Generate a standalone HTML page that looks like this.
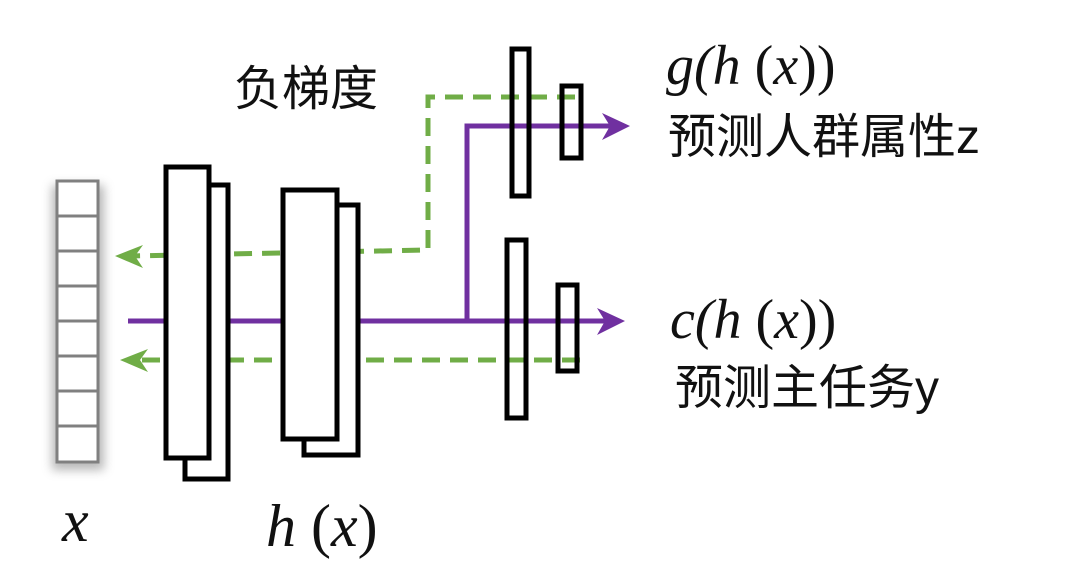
<!DOCTYPE html>
<html><head><meta charset="utf-8"><style>
body{margin:0;background:#fff;}
svg{display:block}
.cn{font-family:"Liberation Sans","Noto Sans CJK SC",sans-serif;font-size:48px;fill:#111}
.it{font-family:"Liberation Serif",serif;font-style:italic;fill:#111}
.rm{font-family:"Liberation Serif",serif;font-style:normal;fill:#111}
</style></head><body>
<svg width="1080" height="565" viewBox="0 0 1080 565">
<defs><filter id="sh" x="-50%" y="-10%" width="200%" height="130%"><feGaussianBlur stdDeviation="5"/></filter></defs>
<rect x="52" y="185" width="52" height="285" fill="#999" filter="url(#sh)" opacity="0.7"/>
<g stroke="#808080" stroke-width="3" fill="#fff">
<rect x="57" y="181" width="41" height="281"/>
<line x1="57" y1="216" x2="98" y2="216"/><line x1="57" y1="251" x2="98" y2="251"/>
<line x1="57" y1="286" x2="98" y2="286"/><line x1="57" y1="321" x2="98" y2="321"/>
<line x1="57" y1="356" x2="98" y2="356"/><line x1="57" y1="391" x2="98" y2="391"/>
<line x1="57" y1="426" x2="98" y2="426"/>
</g>
<g fill="none" stroke="#70ad47" stroke-width="5" stroke-dasharray="18,10">
<polyline points="575,97 428,97 428,250 130,256"/>
<line x1="580" y1="360" x2="130" y2="360"/>
</g>
<polygon points="115,256 143,245 135,256 143,268" fill="#70ad47"/>
<polygon points="120,360 148,349 140,360 148,372" fill="#70ad47"/>
<polyline points="128,321 612,321" stroke="#7030a0" stroke-width="5" fill="none"/>
<polyline points="467,321 467,126 616,126" stroke="#7030a0" stroke-width="5" fill="none"/>
<polygon points="630,126 602,113 610,126 602,140" fill="#7030a0"/>
<polygon points="625,321 597,308 605,321 597,335" fill="#7030a0"/>
<g stroke="#000" stroke-width="5" fill="#fff">
<rect x="185" y="185" width="43" height="294"/>
<rect x="166" y="167" width="43" height="291"/>
<rect x="304" y="205" width="54" height="250"/>
<rect x="283" y="190" width="54" height="249"/>
</g>
<g stroke="#000" stroke-width="5" fill="none">
<rect x="512" y="49" width="17" height="147"/>
<rect x="562" y="86" width="19" height="72"/>
<rect x="507" y="240" width="19" height="178"/>
<rect x="558" y="285" width="19" height="86"/>
</g>
<text class="cn" x="234" y="105">负梯度</text>
<text class="it" x="666" y="84" font-size="56">g(h <tspan class="rm">(</tspan>x<tspan class="rm">))</tspan></text>
<text class="cn" x="668" y="153">预测人群属性z</text>
<text class="it" x="670" y="338" font-size="56">c(h <tspan class="rm">(</tspan>x<tspan class="rm">))</tspan></text>
<text class="cn" x="675" y="404">预测主任务y</text>
<text class="it" x="62" y="541" font-size="60">x</text>
<text class="it" x="266" y="546" font-size="60">h <tspan class="rm">(</tspan>x<tspan class="rm">)</tspan></text>
</svg>
</body></html>
